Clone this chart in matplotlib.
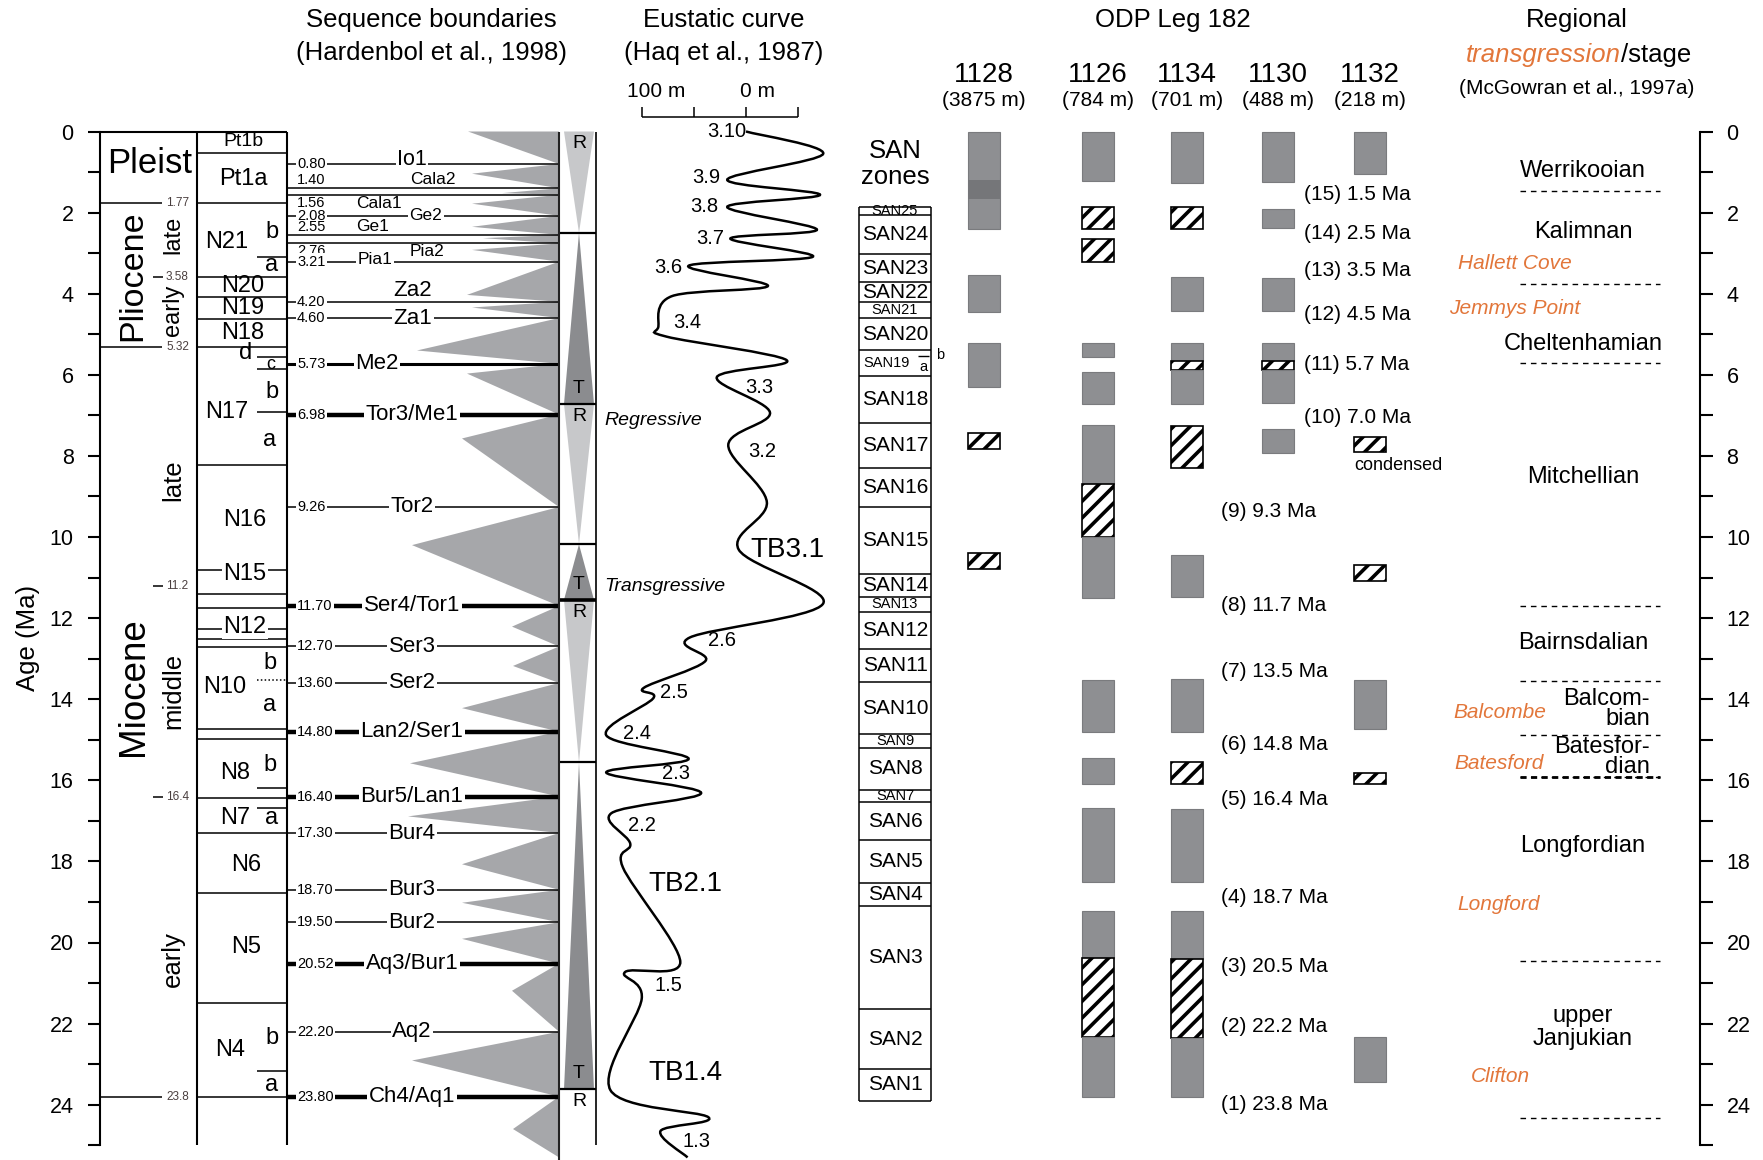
import numpy as np
import matplotlib
matplotlib.use('Agg')
import matplotlib.pyplot as plt
from matplotlib.path import Path
from matplotlib.patches import PathPatch
from matplotlib.ticker import FixedLocator

plt.rcParams['font.family'] = ['Liberation Sans', 'DejaVu Sans']
plt.rcParams['hatch.linewidth'] = 2.6

# === data (ages in Ma) ===

# epochs
epoch_bounds = [1.77, 5.32, 23.8]
subepoch_bounds = [3.58, 11.2, 16.4]
epoch_names = ['Pleist', 'Pliocene', 'Miocene']
epoch_label_ma = [0.8, 3.55, 13.7]
subepoch_names = ['late', 'early', 'late', 'middle', 'early']
subepoch_label_ma = [2.55, 4.4, 8.6, 13.8, 20.4]

# planktonic foraminifer zones
nzone_bounds = [0.52, 1.77, 3.58, 4.07, 4.63, 5.32, 8.22, 10.81, 11.41, 11.76,
                12.27, 12.52, 12.71, 14.74, 14.98, 16.44, 17.29, 18.77, 21.48, 23.8]
nzone_names = ['Pt1b', 'Pt1a', 'N21', 'N20', 'N19', 'N18', 'N17', 'N16', 'N15',
               'N12', 'N10', 'N8', 'N7', 'N6', 'N5', 'N4']
nzone_label_ma = [0.25, 1.17, 2.72, 3.8, 4.36, 4.98, 6.91, 9.58, 10.92,
                  12.21, 13.69, 15.83, 16.92, 18.09, 20.1, 22.65]
subzone_lines = [3.09, 5.57, 5.86, 6.91, 16.2, 16.69, 23.16]
subzone_dotted = [13.53]
subzone_letters = ['b', 'a', 'd', 'c', 'b', 'a', 'b', 'a', 'b', 'a', 'b', 'a']
subzone_letter_ma = [2.47, 3.29, 5.47, 5.74, 6.42, 7.61, 13.11, 14.14, 15.62, 16.94, 22.36, 23.51]

# sequence boundaries (Hardenbol et al., 1998)
sb_ma = [0.80, 1.40, 1.56, 2.08, 2.55, 2.76, 3.21, 4.20, 4.60, 5.73, 6.98, 9.26,
         11.70, 12.70, 13.60, 14.80, 16.40, 17.30, 18.70, 19.50, 20.52, 22.20, 23.80]
sb_names = ['Io1', 'Cala2', 'Cala1', 'Ge2', 'Ge1', 'Pia2', 'Pia1', 'Za2', 'Za1', 'Me2',
            'Tor3/Me1', 'Tor2', 'Ser4/Tor1', 'Ser3', 'Ser2', 'Lan2/Ser1', 'Bur5/Lan1',
            'Bur4', 'Bur3', 'Bur2', 'Aq3/Bur1', 'Aq2', 'Ch4/Aq1']
sb_rank = [0, 0, 0, 0, 0, 0, 0, 0, 0, 1, 2, 0, 2, 0, 0, 2, 2, 0, 0, 0, 2, 0, 2]
# sequence wedges: apex age and wedge length
wedge_apex_ma = [0.0, 1.04, 1.52, 1.78, 2.35, 2.63, 2.92, 4.03, 4.34, 5.40, 5.97, 7.57,
                 10.20, 12.21, 13.18, 14.22, 15.58, 16.89, 18.07, 19.02, 19.91, 21.19, 22.91, 24.6]
wedge_len = [91, 87, 57, 87, 87, 76, 87, 92, 87, 142, 92, 97,
             147, 47, 46, 97, 149, 151, 97, 97, 97, 47, 147, 46]
wedge_bottom = 25.3

# regressive / transgressive facies cycles
rt_bounds = [0.0, 2.5, 6.72, 10.18, 11.55, 15.56, 23.62, 25.0]
rt_kind = ['R', 'T', 'R', 'T', 'R', 'T', 'R']

# eustatic curve (Haq et al., 1987): sea level in m
eus_ma = [0.0, 0.55, 1.19, 1.56, 1.86, 2.42, 2.64, 3.09, 3.31, 3.81, 4.06, 4.81, 5.06,
          5.64, 6.06, 6.93, 7.73, 9.14, 10.31, 11.64, 12.48, 13.06, 13.72, 13.98,
          14.89, 15.47, 15.81, 16.31, 16.81, 17.56, 18.15, 20.48, 20.73, 21.39,
          23.64, 24.31, 24.65, 25.3]
eus_sl = [0, -74, 18, -71, 18, -68, 15, -64, 55, -21, 71, 84, 76,
          -39, 28, -23, 17, -20, 7, -74, 54, 39, 98, 89,
          134, 55, 134, 43, 129, 111, 118, 63, 116, 100,
          130, 36, 82, 56]
eus_labels = ['3.10', '3.9', '3.8', '3.7', '3.6', '3.4', '3.3', '3.2', 'TB3.1', '2.6',
              '2.5', '2.4', '2.3', '2.2', 'TB2.1', '1.5', 'TB1.4', '1.3']
eus_label_ma = [0.0, 1.14, 1.84, 2.64, 3.36, 4.72, 6.31, 7.89, 10.31, 12.56,
                13.84, 14.84, 15.84, 17.11, 18.56, 21.06, 23.23, 24.9]

# ODP Leg 182 sites: (top, base, kind) g = recovered, h = condensed, d = dark band
sites = ['1128', '1126', '1134', '1130', '1132']
site_depths = ['(3875 m)', '(784 m)', '(701 m)', '(488 m)', '(218 m)']
bars_1128 = [(0.0, 2.41, 'g'), (1.20, 1.66, 'd'), (3.54, 4.44, 'g'), (5.22, 6.31, 'g'),
             (7.44, 7.84, 'h'), (10.40, 10.80, 'h')]
bars_1126 = [(0.0, 1.21, 'g'), (1.87, 2.41, 'h'), (2.65, 3.21, 'h'), (5.22, 5.55, 'g'),
             (5.94, 6.72, 'g'), (7.24, 8.69, 'g'), (8.69, 9.99, 'h'), (9.99, 11.51, 'g'),
             (13.52, 14.80, 'g'), (15.44, 16.10, 'g'), (16.69, 18.50, 'g'),
             (19.23, 20.38, 'g'), (20.38, 22.33, 'h'), (22.33, 23.80, 'g')]
bars_1134 = [(0.0, 1.26, 'g'), (1.87, 2.41, 'h'), (3.58, 4.42, 'g'), (5.22, 5.67, 'g'),
             (5.67, 5.88, 'h'), (5.88, 6.72, 'g'), (7.26, 8.31, 'h'), (10.44, 11.49, 'g'),
             (13.50, 14.80, 'g'), (15.54, 16.10, 'h'), (16.72, 18.50, 'g'),
             (19.23, 20.40, 'g'), (20.40, 22.35, 'h'), (22.35, 23.80, 'g')]
bars_1130 = [(0.0, 1.24, 'g'), (1.92, 2.39, 'g'), (3.62, 4.42, 'g'), (5.22, 5.67, 'g'),
             (5.67, 5.88, 'h'), (5.88, 6.69, 'g'), (7.34, 7.94, 'g')]
bars_1132 = [(0.0, 1.06, 'g'), (7.54, 7.90, 'h'), (10.70, 11.09, 'h'), (13.53, 14.73, 'g'),
             (15.83, 16.08, 'h'), (22.32, 23.43, 'g')]

# SAN nannofossil zones
san_bounds = [1.87, 2.06, 3.02, 3.72, 4.20, 4.59, 5.40, 6.02, 7.18, 8.31, 9.27, 10.91,
              11.47, 11.85, 12.77, 13.57, 14.87, 15.21, 16.23, 16.54, 17.47, 18.54,
              19.11, 21.65, 23.12, 23.90]
san_names = ['SAN%d' % n for n in range(25, 0, -1)]
san_small = ['SAN25', 'SAN21', 'SAN19', 'SAN13', 'SAN9', 'SAN7']

# numbered events
event_no = list(range(15, 0, -1))
event_ma = [1.5, 2.5, 3.5, 4.5, 5.7, 7.0, 9.3, 11.7, 13.5, 14.8, 16.4, 18.7, 20.5, 22.2, 23.8]
event_label_ma = [1.55, 2.52, 3.44, 4.52, 5.74, 7.05, 9.37, 11.70, 13.31, 15.11,
                  16.47, 18.88, 20.6, 22.07, 23.99]

# regional stages (McGowran et al., 1997a)
stage_bounds = [1.47, 3.76, 5.70, 11.70, 13.54, 14.89, 15.92, 20.46, 24.32]
stage_names = ['Werrikooian', 'Kalimnan', 'Cheltenhamian', 'Mitchellian', 'Bairnsdalian',
               'Balcom-\nbian', 'Batesfor-\ndian', 'Longfordian', 'upper\nJanjukian']
stage_label_ma = [0.97, 2.49, 5.24, 8.53, 12.61, 14.24, 15.43, 17.63, 22.1]
trans_names = ['Hallett Cove', 'Jemmys Point', 'Balcombe', 'Batesford', 'Longford', 'Clifton']
trans_ma = [3.25, 4.37, 14.33, 15.58, 19.07, 23.31]

# === layout ===
Y0, PPM = 131.5, 40.55          # pixel row of 0 Ma, pixels per Ma


def row(py):
    # pixel row -> age axis units (for header texts)
    return (py - Y0) / PPM


ORANGE = '#e2763a'
GRAY = '#8e8f92'
WEDGE = '#a6a7aa'

fig = plt.figure(figsize=(17.63, 11.60), dpi=100)
ax = fig.add_axes([0, 0, 1, 1])
ax.set_xlim(0, 1763)
ax.set_ylim(row(1160), row(0))

# age axes on both sides
for s in ['top', 'bottom']:
    ax.spines[s].set_visible(False)
ax.spines['left'].set_position(('data', 100))
ax.spines['right'].set_position(('data', 1700))
for s in ['left', 'right']:
    ax.spines[s].set_bounds(0, 25)
    ax.spines[s].set_linewidth(1.5)
ax.set_xticks([])
ax.yaxis.set_major_locator(FixedLocator(range(0, 25, 2)))
ax.yaxis.set_minor_locator(FixedLocator(range(1, 26, 2)))
ax.tick_params(axis='y', which='both', left=True, right=True, labelleft=True,
               labelright=True, direction='out', length=9, width=1.5,
               labelsize=15.5, pad=10)
ax.text(28, 12.5, 'Age (Ma)', rotation=90, ha='center', va='center', fontsize=18.5)

white = dict(facecolor='white', edgecolor='none', pad=1)

# --- epoch / zone columns ---
ax.vlines([197, 287], 0, 25, colors='k', lw=1.5)
ax.hlines(0, 100, 287, colors='k', lw=1.5)
ax.hlines(epoch_bounds, 100, 162, colors='k', lw=1.1)
ax.hlines(subepoch_bounds, 153, 163, colors='k', lw=1.1)
for v in epoch_bounds + subepoch_bounds:
    ax.text(166, v, str(v), ha='left', va='center', fontsize=8.5, color='#4a3f3f')

ax.text(150, epoch_label_ma[0], epoch_names[0], ha='center', va='center', fontsize=25)
for name, a, fs in zip(epoch_names[1:], epoch_label_ma[1:], [24.5, 26.5]):
    ax.text(133, a, name, rotation=90, ha='center', va='center', fontsize=fs)
for name, a, fs in zip(subepoch_names, subepoch_label_ma, [17, 17, 18.5, 18.5, 18.5]):
    ax.text(173, a, name, rotation=90, ha='center', va='center', fontsize=fs)

ax.hlines(nzone_bounds, 197, 287, colors='k', lw=1.1)
ax.hlines(subzone_lines, 257, 287, colors='k', lw=1.1)
ax.hlines(subzone_dotted, 257, 287, colors='k', lw=1.1, linestyles=(0, (1, 1.5)))
nzone_x = [243, 243, 227, 243, 243, 243, 227, 245, 245, 245, 225, 235, 235, 246, 246, 230]
for name, a, x in zip(nzone_names, nzone_label_ma, nzone_x):
    fs = 14 if name == 'Pt1b' else 17
    bb = white if name in ('N15', 'N12') else None
    ax.text(x, a, name, ha='center', va='center', fontsize=fs, bbox=bb)
letter_x = [272, 272, 246, 271, 272, 270, 270, 270, 270, 272, 272, 272]
for t, a, x in zip(subzone_letters, subzone_letter_ma, letter_x):
    ax.text(x, a, t, ha='center', va='center', fontsize=17 if t != 'c' else 13)

# --- sequence boundaries and wedges ---
tops = [0.0] + sb_ma
bases = sb_ma + [wedge_bottom]
for top, base, am, ln in zip(tops, bases, wedge_apex_ma, wedge_len):
    ax.fill([559, 559 - ln, 559], [top, am, base], color=WEDGE, lw=0, zorder=1)

name_x = [412, 433, 379, 426, 373, 427, 375, 413, 413, 377] + [412] * 13
num_va = ['c', 'b', 't', 'c', 'b', 't', 'c'] + ['c'] * 16
name_va = ['c', 'b', 't', 'c', 'b', 't', 'c', 'b'] + ['c'] * 15
for a, name, rk, nx, nva, va in zip(sb_ma, sb_names, sb_rank, name_x, num_va, name_va):
    lw = [1.1, 2.2, 3.2][rk]
    ax.hlines(a, 287, 559, colors='k', lw=lw, zorder=2)
    small = name in ('Cala2', 'Cala1', 'Ge2', 'Ge1', 'Pia2', 'Pia1')
    fs = 12.5 if small else (15.5 if name == 'Io1' else 16)
    for x, t, v, f, ha in [(297, '%.2f' % a, nva, 10.5, 'left'), (nx, name, va, fs, 'center')]:
        if v == 'c':
            dy = {'Pia1': -0.06, 'Io1': -0.1}.get(t, 0.0)
            ax.text(x, a + dy, t, ha=ha, va='center', fontsize=f, bbox=white)
        elif v == 'b':
            ax.text(x, a - 0.02, t, ha=ha, va='bottom', fontsize=f)
        else:
            ax.text(x, a + 0.02, t, ha=ha, va='top', fontsize=f)

# --- R / T column ---
xl, xc, xr = 564, 579, 594
for top, base, kind in zip(rt_bounds[:-1], rt_bounds[1:], rt_kind):
    if kind == 'R':
        if base < 25:
            ax.fill([xl, xr, xc], [top, top, base], color='#c7c8ca', lw=0, zorder=1)
        ax.text(xc, top + 0.3, 'R', ha='center', va='center', fontsize=14)
    else:
        ax.fill([xc, xr, xl], [top, base, base], color='#8b8c8f', lw=0, zorder=1)
        ax.text(xc, base - 0.38, 'T', ha='center', va='center', fontsize=14)
ax.hlines(rt_bounds[1:-1], 559, 596, colors='k',
          lw=[1.6, 1.6, 1.6, 2.6, 1.6, 1.6])
ax.vlines(559, 0, 25.4, colors='#222222', lw=1.5)
ax.vlines(596, 0, 25, colors='k', lw=1.2)
ax.text(604, 7.13, 'Regressive', style='italic', ha='left', va='center', fontsize=14)
ax.text(604, 11.23, 'Transgressive', style='italic', ha='left', va='center', fontsize=14)

# --- eustatic curve ---
eus_x = 746 - 1.043 * np.array(eus_sl)
pts = np.column_stack([eus_x, eus_ma])
p = np.vstack([pts[0], pts, pts[-1]])
verts = [pts[0]]
codes = [Path.MOVETO]
for i in range(1, len(p) - 2):
    verts += [p[i] + (p[i + 1] - p[i - 1]) / 6, p[i + 1] - (p[i + 2] - p[i]) / 6, p[i + 1]]
    codes += [Path.CURVE4] * 3
ax.add_patch(PathPatch(Path(verts, codes), fill=False, lw=1.8, ec='k', zorder=3))

eus_label_x = [727, 706, 704, 710, 668, 687, 759, 762, 787, 722,
               674, 637, 676, 642, 685, 668, 685, 697]
for t, a, x in zip(eus_labels, eus_label_ma, eus_label_x):
    fs = 20 if t.startswith('TB') else 14.5
    ax.text(x, a, t, ha='center', va='center', fontsize=fs)

ax.hlines(row(117.3), 641.7, 798, colors='k', lw=1.1)
ax.vlines([641.7, 694, 746, 798], row(106.7), row(117.3), colors='k', lw=1.1)
ax.text(656, row(91.7), '100 m', ha='center', va='center', fontsize=15)
ax.text(758, row(91.7), '0 m', ha='center', va='center', fontsize=15)

# --- site columns ---
site_x = [984, 1098, 1187, 1278, 1370]
for x, bars in zip(site_x, [bars_1128, bars_1126, bars_1134, bars_1130, bars_1132]):
    for top, base, kind in bars:
        if kind == 'g':
            ax.bar(x, base - top, bottom=top, width=32.5, color=GRAY,
                   edgecolor='#7a7b7e', lw=0.8)
        elif kind == 'd':
            ax.bar(x, base - top, bottom=top, width=32, color='#757679', lw=0)
        else:
            ax.bar(x, base - top, bottom=top, width=32.5, color='white',
                   edgecolor='k', hatch='//', lw=1.2)
for x, s, d in zip(site_x, sites, site_depths):
    ax.text(x, row(75), s, ha='center', va='center', fontsize=20)
    ax.text(x, row(101), d, ha='center', va='center', fontsize=15)
ax.text(1354, 8.24, 'condensed', ha='left', va='center', fontsize=13)

# --- SAN zones ---
ax.vlines([859, 931], san_bounds[0], san_bounds[-1], colors='k', lw=1.1)
ax.hlines(san_bounds, 859, 931, colors='k', lw=1.1)
for top, base, name in zip(san_bounds[:-1], san_bounds[1:], san_names):
    fs = 10.5 if name in san_small else 15
    x = 887 if name == 'SAN19' else 895
    ax.text(x, (top + base) / 2, name, ha='center', va='center', fontsize=fs)
ax.hlines(5.53, 918, 929, colors='k', lw=1)
ax.text(923, 5.8, 'a', ha='center', va='center', fontsize=10.5)
ax.text(940, 5.5, 'b', ha='center', va='center', fontsize=10.5)
ax.text(895, 0.47, 'SAN', ha='center', va='center', fontsize=18.5)
ax.text(895, 1.11, 'zones', ha='center', va='center', fontsize=18.5)

# --- events ---
for n, a, ly in zip(event_no, event_ma, event_label_ma):
    x = 1304 if n >= 10 else 1221
    ax.text(x, ly, '(%d) %.1f Ma' % (n, a), ha='left', va='center', fontsize=15)

# --- regional stages ---
ax.hlines(stage_bounds, 1520, 1660, colors='k', lw=1.0, linestyles=(0, (4, 3.5)))
ax.hlines(15.92, 1520, 1660, colors='k', lw=2.0, linestyles=(0, (2.2, 1.6)))
for name, a in zip(stage_names, stage_label_ma):
    if name.startswith('Balcom') or name.startswith('Batesfor'):
        ax.text(1650, a, name, ha='right', va='center', ma='right',
                fontsize=17, linespacing=0.85)
    else:
        ax.text(1583, a, name, ha='center', va='center', fontsize=17, linespacing=1.05)
trans_x = [1515, 1515, 1500, 1499, 1499, 1500]
for name, a, x in zip(trans_names, trans_ma, trans_x):
    ax.text(x, a, name, ha='center', va='center', fontsize=15, style='italic', color=ORANGE)

# --- headers ---
ax.text(431, row(20), 'Sequence boundaries', ha='center', va='center', fontsize=18.5)
ax.text(431, row(53), '(Hardenbol et al., 1998)', ha='center', va='center', fontsize=18.5)
ax.text(724, row(20), 'Eustatic curve', ha='center', va='center', fontsize=18.5)
ax.text(724, row(53), '(Haq et al., 1987)', ha='center', va='center', fontsize=18.5)
ax.text(1173, row(20), 'ODP Leg 182', ha='center', va='center', fontsize=18.5)
ax.text(1577, row(20), 'Regional', ha='center', va='center', fontsize=18.5)
ax.text(1621, row(55), 'transgression', ha='right', va='center', fontsize=18.5,
        style='italic', color=ORANGE)
ax.text(1621, row(55), '/stage', ha='left', va='center', fontsize=18.5)
ax.text(1577, row(89), '(McGowran et al., 1997a)', ha='center', va='center', fontsize=15)

fig.savefig('out.png', dpi=100)
